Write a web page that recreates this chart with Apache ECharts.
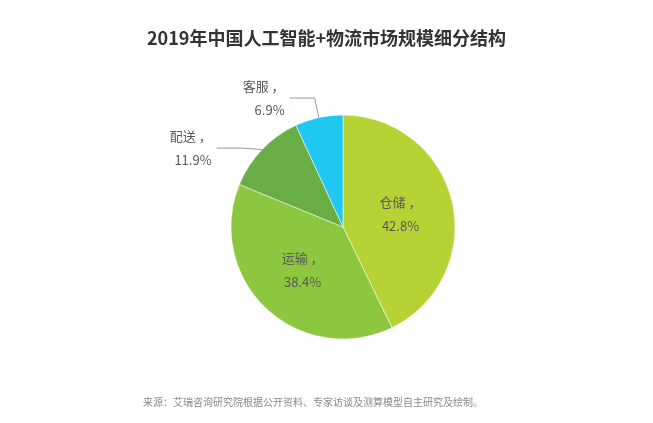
<!DOCTYPE html>
<html>
<head>
<meta charset="utf-8">
<script src="https://cdn.jsdelivr.net/npm/echarts@6/dist/echarts.min.js"></script>
<style>
html,body{margin:0;padding:0;background:#fff;}
#main{width:653px;height:423px;}
</style>
</head>
<body>
<div id="main"></div>
<script>
var names = ['仓储', '运输', '配送', '客服'];
var values = [42.8, 38.4, 11.9, 6.9];
var colors = ['#b5d334', '#8dc63f', '#68ae45', '#1fc7f1'];

(function(){
  var myChart = echarts.init(document.getElementById('main'));
  var data = names.map(function(n, i){
    var item = { name: n, value: values[i], itemStyle: { color: colors[i] } };
    if (i >= 2) {
      item.label = { position: 'outside', align: 'right' };
      item.labelLine = { show: true };
    }
    return item;
  });
  var option = {
    textStyle: { fontFamily: 'Noto Sans CJK SC' },
    title: {
      text: '2019年中国人工智能+物流市场规模细分结构',
      left: 'center', top: 24,
      textStyle: { fontSize: 18, fontWeight: 'bold', color: '#333', fontFamily: 'Noto Sans CJK SC' }
    },
    graphic: [{
      type: 'text', left: 143, top: 397,
      style: { text: '来源：艾瑞咨询研究院根据公开资料、专家访谈及测算模型自主研究及绘制。', fill: '#8a8a8a', fontSize: 10, fontFamily: 'Noto Sans CJK SC' }
    }],
    series: [{
      type: 'pie',
      center: [343, 227],
      radius: [0, 112],
      startAngle: 90,
      clockwise: true,
      label: {
        show: true,
        position: 'inner',
        formatter: function(p){ return p.name + ' ，\n' + p.value + '%'; },
        color: '#595959',
        fontSize: 13,
        lineHeight: 24
      },
      labelLine: { show: false, length: 20, length2: 25, lineStyle: { color: '#999' } },
      itemStyle: { borderColor: '#fff', borderWidth: 0.5 },
      data: data
    }]
  };
  myChart.setOption(option);
  window.addEventListener("resize", function(){ myChart.resize(); });
})();
</script>
</body>
</html>
